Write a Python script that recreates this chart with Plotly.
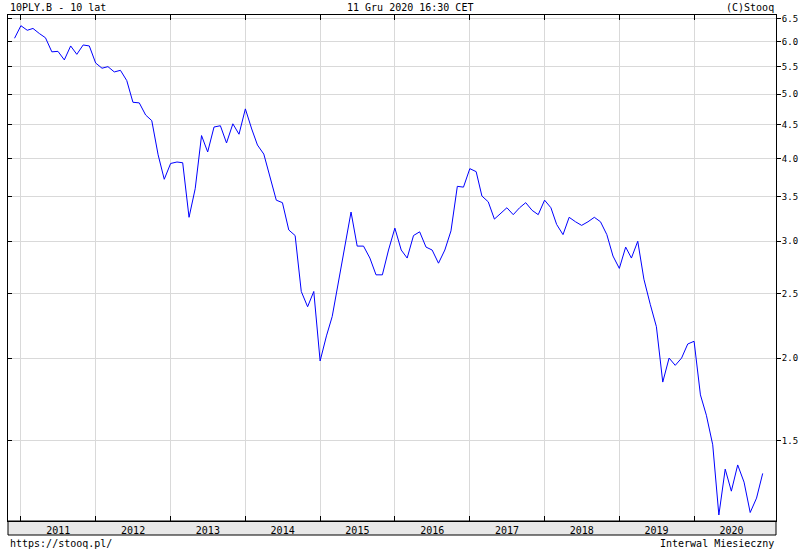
import numpy as np
import pandas as pd
import plotly.graph_objects as go

# --- monthly close, 10PLY.B (Polish 10y bond yield), Dec 2010 .. Dec 2020 ---
months = pd.date_range("2010-12-01", "2020-12-01", freq="MS")
yields = [
    6.07,
    6.34, 6.24, 6.28, 6.17, 6.08, 5.79, 5.80, 5.63, 5.91, 5.74, 5.93, 5.91,  # 2011
    5.57, 5.47, 5.50, 5.40, 5.43, 5.24, 4.86, 4.85, 4.65, 4.56, 4.05, 3.72,  # 2012
    3.93, 3.95, 3.94, 3.26, 3.60, 4.33, 4.09, 4.46, 4.48, 4.22, 4.51, 4.35,  # 2013
    4.75, 4.43, 4.19, 4.06, 3.74, 3.46, 3.43, 3.12, 3.06, 2.52, 2.39, 2.52,  # 2014
    1.98, 2.16, 2.31, 2.61, 2.93, 3.32, 2.95, 2.95, 2.83, 2.67, 2.67, 2.91,  # 2015
    3.14, 2.91, 2.83, 3.06, 3.10, 2.94, 2.91, 2.78, 2.91, 3.11, 3.63, 3.62,  # 2016
    3.86, 3.82, 3.51, 3.44, 3.24, 3.31, 3.37, 3.29, 3.37, 3.43, 3.34, 3.29,  # 2017
    3.46, 3.37, 3.18, 3.07, 3.26, 3.21, 3.17, 3.21, 3.26, 3.21, 3.07, 2.85,  # 2018
    2.73, 2.94, 2.83, 3.00, 2.63, 2.41, 2.23, 1.84, 2.00, 1.95, 2.00, 2.10,  # 2019
    2.12, 1.76, 1.64, 1.48, 1.16, 1.36, 1.26, 1.38, 1.30, 1.17, 1.23, 1.34,  # 2020
]

years = list(range(2011, 2021))
year_starts = [f"{y}-01-01" for y in years]
year_mids = [f"{y}-07-02" for y in years]
year_labels = [str(y) for y in years]

y_ticks = [1.5, 2.0, 2.5, 3.0, 3.5, 4.0, 4.5, 5.0, 5.5, 6.0, 6.5]
y_labels = [f"{v:.1f}" for v in y_ticks]

FONT = "DejaVu Sans Mono"
GRID = "#d9d9d9"
y_range = [np.log10(1.136), np.log10(6.58)]

fig = go.Figure()
fig.add_trace(go.Scatter(
    x=months, y=yields, mode="lines",
    line=dict(color="#0000ff", width=1),
    showlegend=False, hoverinfo="x+y",
))
# empty trace so the left tick-only axis gets drawn
fig.add_trace(go.Scatter(x=[], y=[], yaxis="y2", showlegend=False, hoverinfo="skip"))

fig.update_layout(
    width=800, height=550,
    margin=dict(l=8, r=24, t=15, b=29),
    paper_bgcolor="white", plot_bgcolor="white",
    font=dict(family=FONT, size=10, color="black"),
    xaxis=dict(
        type="date", range=["2010-10-30", "2021-02-04"], automargin=False,
        tickmode="array", tickvals=year_mids, ticktext=year_labels,
        ticks="", showgrid=False, zeroline=False,
        showline=True, linecolor="black", linewidth=1, mirror="ticks",
        tickfont=dict(family=FONT, size=10, color="black"),
        minor=dict(tickmode="array", tickvals=year_starts, showgrid=True,
                   gridcolor=GRID, gridwidth=1, ticks="inside", ticklen=5,
                   tickcolor="black"),
    ),
    yaxis=dict(
        type="log", range=y_range, side="right", automargin=False,
        tickmode="array", tickvals=y_ticks, ticktext=y_labels,
        ticks="outside", ticklen=4, tickcolor="black", ticklabelstandoff=-1,
        showgrid=True, gridcolor=GRID, gridwidth=1, zeroline=False,
        showline=True, linecolor="black", linewidth=1, mirror=True,
        tickfont=dict(family=FONT, size=9, color="black"),
    ),
    yaxis2=dict(
        type="log", range=y_range, overlaying="y", side="left", automargin=False,
        tickmode="array", tickvals=y_ticks, showticklabels=False,
        ticks="inside", ticklen=4, tickcolor="black",
        showgrid=False, zeroline=False, showline=False,
    ),
    shapes=[dict(
        type="rect", xref="paper", yref="paper", x0=0, x1=1,
        y0=-14 / 506, y1=0, fillcolor="#e8e8e8",
        line=dict(color="black", width=1), layer="below",
    )],
    annotations=[
        dict(text="10PLY.B - 10 lat", xref="paper", yref="paper", x=0, y=1,
             xanchor="left", yanchor="bottom", showarrow=False),
        dict(text="11 Gru 2020 16:30 CET", xref="paper", yref="paper", x=0.524, y=1,
             xanchor="center", yanchor="bottom", showarrow=False),
        dict(text="(C)Stooq", xref="paper", yref="paper", x=1, y=1,
             xanchor="right", yanchor="bottom", showarrow=False),
        dict(text="https://stooq.pl/", xref="paper", yref="paper", x=0, y=-22 / 506,
             xanchor="left", yanchor="middle", showarrow=False),
        dict(text="Interwal Miesieczny", xref="paper", yref="paper", x=1, y=-22 / 506,
             xanchor="right", yanchor="middle", showarrow=False),
    ],
)

# drop the default page margin so the 800x550 figure fills the window exactly
fig.write_html(
    "out.html",
    config={"displayModeBar": False},
    post_script="document.body.style.margin='0';document.body.style.overflow='hidden';",
)
